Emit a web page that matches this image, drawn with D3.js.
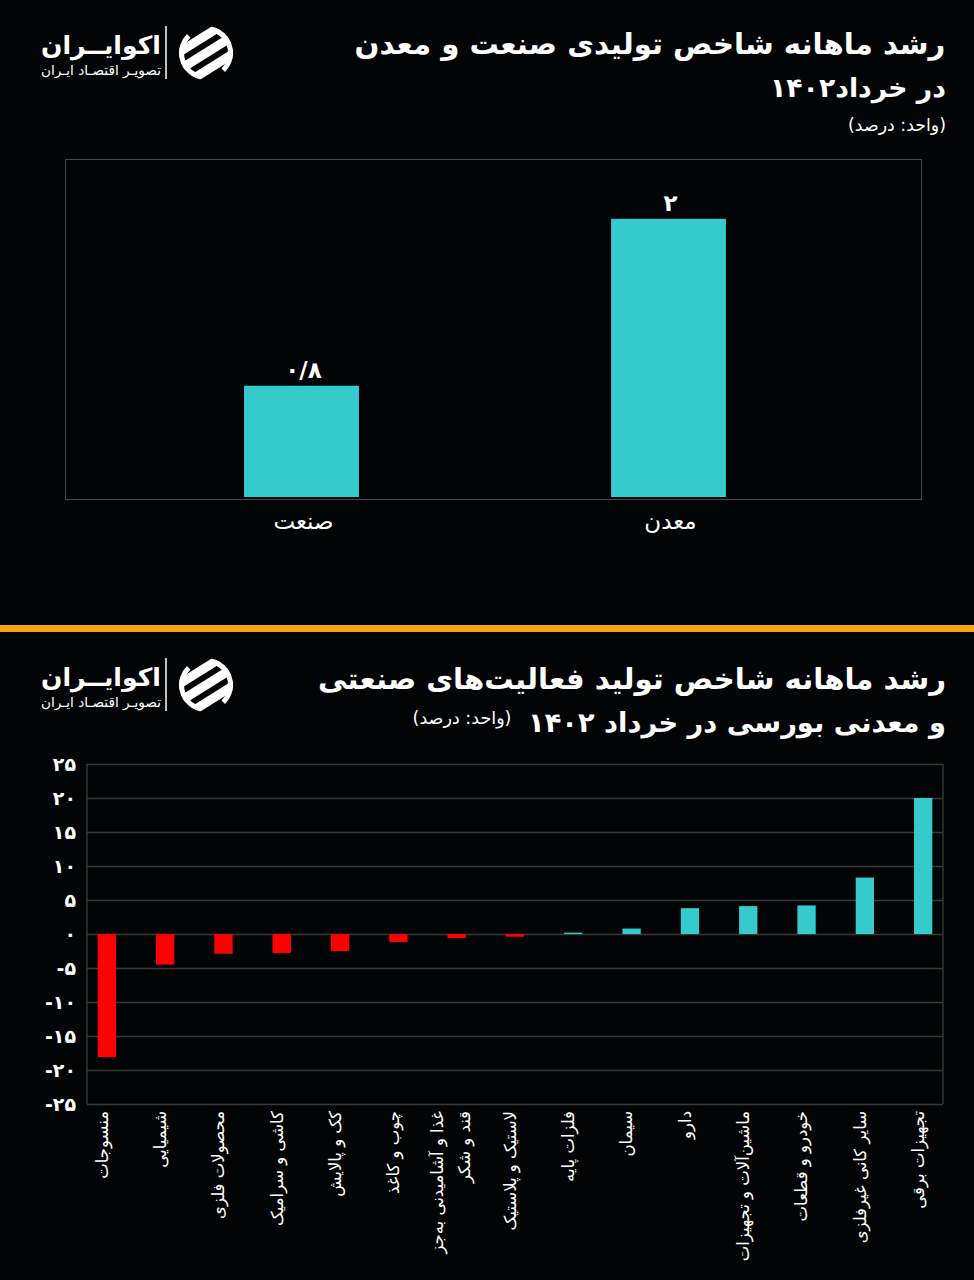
<!DOCTYPE html>
<html>
<head>
<meta charset="utf-8">
<script src="https://cdn.jsdelivr.net/npm/d3@7/dist/d3.min.js"></script>
<style>
  html, body { margin: 0; padding: 0; background: #030405; }
  svg { display: block; }
  text { font-family: "DejaVu Sans", "Noto Sans", sans-serif; fill: #ffffff; }
</style>
</head>
<body>
<svg id="chart" width="974" height="1280"></svg>
<script>
// ---------- DATA ----------
const topCategories = ["صنعت", "معدن"];
const topValues = [0.8, 2];
const topValueLabels = ["۰/۸", "۲"];

const sectorCategories = [
  "منسوجات",
  "شیمیایی",
  "محصولات فلزی",
  "کاشی و سرامیک",
  "کک و پالایش",
  "چوب و کاغذ",
  "غذا و آشامیدنی به\u200Cجز\nقند و شکر",
  "لاستیک و پلاستیک",
  "فلزات پایه",
  "سیمان",
  "دارو",
  "ماشین\u200Cآلات و تجهیزات",
  "خودرو و قطعات",
  "سایر کانی غیرفلزی",
  "تجهیزات برقی"
];
const sectorValues = [-18.1, -4.5, -2.9, -2.8, -2.5, -1.2, -0.6, -0.4, 0.2, 0.8, 3.8, 4.1, 4.2, 8.3, 20.0];
const sectorTicks = [-25, -20, -15, -10, -5, 0, 5, 10, 15, 20, 25];

const title1Lines = ["رشد ماهانه شاخص تولیدی صنعت و معدن", "در خرداد۱۴۰۲"];
const title2Lines = ["رشد ماهانه شاخص تولید فعالیت\u200Cهای صنعتی", "و معدنی بورسی در خرداد ۱۴۰۲"];
const unitText = "(واحد: درصد)";
const brandName = "اکوایــران";
const brandSub = "تصویـر اقتصـاد ایـران";

// ---------- HELPERS ----------
const fa = s => String(s).replace(/[0-9]/g, d => "۰۱۲۳۴۵۶۷۸۹"[+d]);
const TEAL = "#35cacc", RED = "#ff0000", GRID = "#3a3a3a", FRAME = "#4a4a4a";

const svg = d3.select("#chart");
svg.append("rect").attr("width", 974).attr("height", 1280).attr("fill", "#030405");

// place a right-to-left text centred at cx, scaled so its natural width matches `width`
function addText(g, txt, cx, y, size, weight, width) {
  const t = g.append("text")
    .attr("x", cx).attr("y", y)
    .attr("text-anchor", "middle")
    .attr("direction", "rtl")
    .style("unicode-bidi", "embed")
    .attr("font-size", size)
    .attr("font-weight", weight)
    .text(txt);
  if (width) {
    const len = t.node().getComputedTextLength();
    if (len > 0) t.attr("font-size", Math.min(size * 1.15, size * width / len));
  }
  return t;
}

function logo(g, dy) {
  const lg = g.append("g").attr("transform", `translate(0,${dy})`);
  addText(lg, brandName, 101, 54, 28, "bold", 120);
  addText(lg, brandSub, 101, 75, 13, "normal", 120);
  lg.append("line").attr("x1", 166).attr("x2", 166).attr("y1", 26).attr("y2", 79)
    .attr("stroke", "#ffffff").attr("stroke-width", 1.5);
  const id = "clip" + dy;
  lg.append("clipPath").attr("id", id).append("circle").attr("cx", 0).attr("cy", 0).attr("r", 27);
  const ic = lg.append("g").attr("transform", "translate(206,53)");
  const inner = ic.append("g").attr("clip-path", `url(#${id})`);
  [-15, 0, 15].forEach(o => {
    inner.append("rect").attr("x", -45).attr("y", o - 4.5).attr("width", 90).attr("height", 9)
      .attr("rx", 4.5).attr("fill", "#ffffff").attr("transform", "rotate(-32)");
  });
  ic.append("path")
    .attr("d", d3.arc()({innerRadius: 22, outerRadius: 27, startAngle: Math.PI * 1.15, endAngle: Math.PI * 1.75}))
    .attr("fill", "#ffffff");
  ic.append("path")
    .attr("d", d3.arc()({innerRadius: 22, outerRadius: 27, startAngle: Math.PI * 0.15, endAngle: Math.PI * 0.75}))
    .attr("fill", "#ffffff");
}

// ---------- TOP PANEL ----------
const topG = svg.append("g");
addText(topG, title1Lines[0], 650, 54, 30, "bold", 591);
addText(topG, title1Lines[1], 858, 97, 30, "bold", 176);
addText(topG, unitText, 897, 131, 16, "normal", 98);
logo(topG, 0);

const tx = d3.scaleBand().domain(topCategories).range([118, 852]).paddingInner(0.687).paddingOuter(0.3435);
const ty = d3.scaleLinear().domain([0, 2.43]).range([497, 159]);

topG.append("rect")
  .attr("x", 65.5).attr("y", ty(2.43) + 0.5)
  .attr("width", 856).attr("height", ty(0) + 2 - ty(2.43))
  .attr("fill", "none").attr("stroke", FRAME).attr("stroke-width", 1);

topG.selectAll("rect.tbar").data(topValues).join("rect").attr("class", "tbar")
  .attr("x", (d, i) => tx(topCategories[i]))
  .attr("width", tx.bandwidth())
  .attr("y", d => ty(d))
  .attr("height", d => ty(0) - ty(d))
  .attr("fill", TEAL);

topG.selectAll("text.tval").data(topValues).join("text").attr("class", "tval")
  .attr("x", (d, i) => tx(topCategories[i]) + tx.bandwidth() / 2 + 2)
  .attr("y", d => ty(d) - 8)
  .attr("text-anchor", "middle")
  .attr("font-size", 23).attr("font-weight", "bold")
  .text((d, i) => topValueLabels[i]);

topG.selectAll("text.tcat").data(topCategories).join("text").attr("class", "tcat")
  .attr("x", d => tx(d) + tx.bandwidth() / 2 + 2)
  .attr("y", 529)
  .attr("text-anchor", "middle")
  .attr("font-size", 23)
  .text(d => d);

// ---------- ORANGE DIVIDER ----------
svg.append("rect").attr("x", 0).attr("y", 625).attr("width", 974).attr("height", 7).attr("fill", "#f9a30f");

// ---------- BOTTOM PANEL ----------
const bot = svg.append("g");
addText(bot, title2Lines[0], 632, 689, 30, "bold", 628);
addText(bot, title2Lines[1], 737, 732, 30, "bold", 418);
addText(bot, unitText, 462, 724, 16, "normal", 99);
logo(bot, 632);

const L = 87, R = 943, T = 764, B = 1104;
const bx = d3.scaleBand().domain(sectorCategories).range([L, R]).paddingInner(0.686).paddingOuter(0.183);
const by = d3.scaleLinear().domain([-25, 25]).range([B, T]);

const yAxis = bot.append("g").attr("transform", `translate(${L},0)`)
  .call(d3.axisLeft(by).tickValues(sectorTicks).tickSize(-(R - L)).tickPadding(11).tickFormat(d => fa(d)));
yAxis.select(".domain").remove();
yAxis.selectAll(".tick line").attr("stroke", GRID).attr("stroke-width", 1.3);
yAxis.selectAll(".tick text").attr("font-size", 19).attr("font-weight", "bold")
  .attr("font-family", "DejaVu Sans").attr("fill", "#ffffff").attr("dy", "0.35em");

bot.append("line").attr("x1", L).attr("x2", L).attr("y1", T).attr("y2", B).attr("stroke", FRAME);
bot.append("line").attr("x1", R).attr("x2", R).attr("y1", T).attr("y2", B).attr("stroke", FRAME);

bot.selectAll("rect.sbar").data(sectorValues).join("rect").attr("class", "sbar")
  .attr("x", (d, i) => bx(sectorCategories[i]))
  .attr("width", bx.bandwidth())
  .attr("y", d => Math.min(by(d), by(0)))
  .attr("height", d => Math.abs(by(d) - by(0)))
  .attr("fill", d => d < 0 ? RED : TEAL);

const labels = bot.selectAll("g.xlab").data(sectorCategories).join("g").attr("class", "xlab")
  .attr("transform", d => `translate(${bx(d) + bx.bandwidth() / 2 - 5},1111) rotate(-90)`);
labels.each(function(d) {
  const lines = d.split("\n");
  const g = d3.select(this);
  lines.forEach((ln, k) => {
    const off = lines.length === 1 ? 0 : (k === 0 ? -14 : 13);
    g.append("text")
      .attr("x", 0).attr("y", off)
      .attr("dy", "0.35em")
      .attr("text-anchor", "end")
      .attr("font-size", 16.5)
      .text(ln);
  });
});
</script>
</body>
</html>
